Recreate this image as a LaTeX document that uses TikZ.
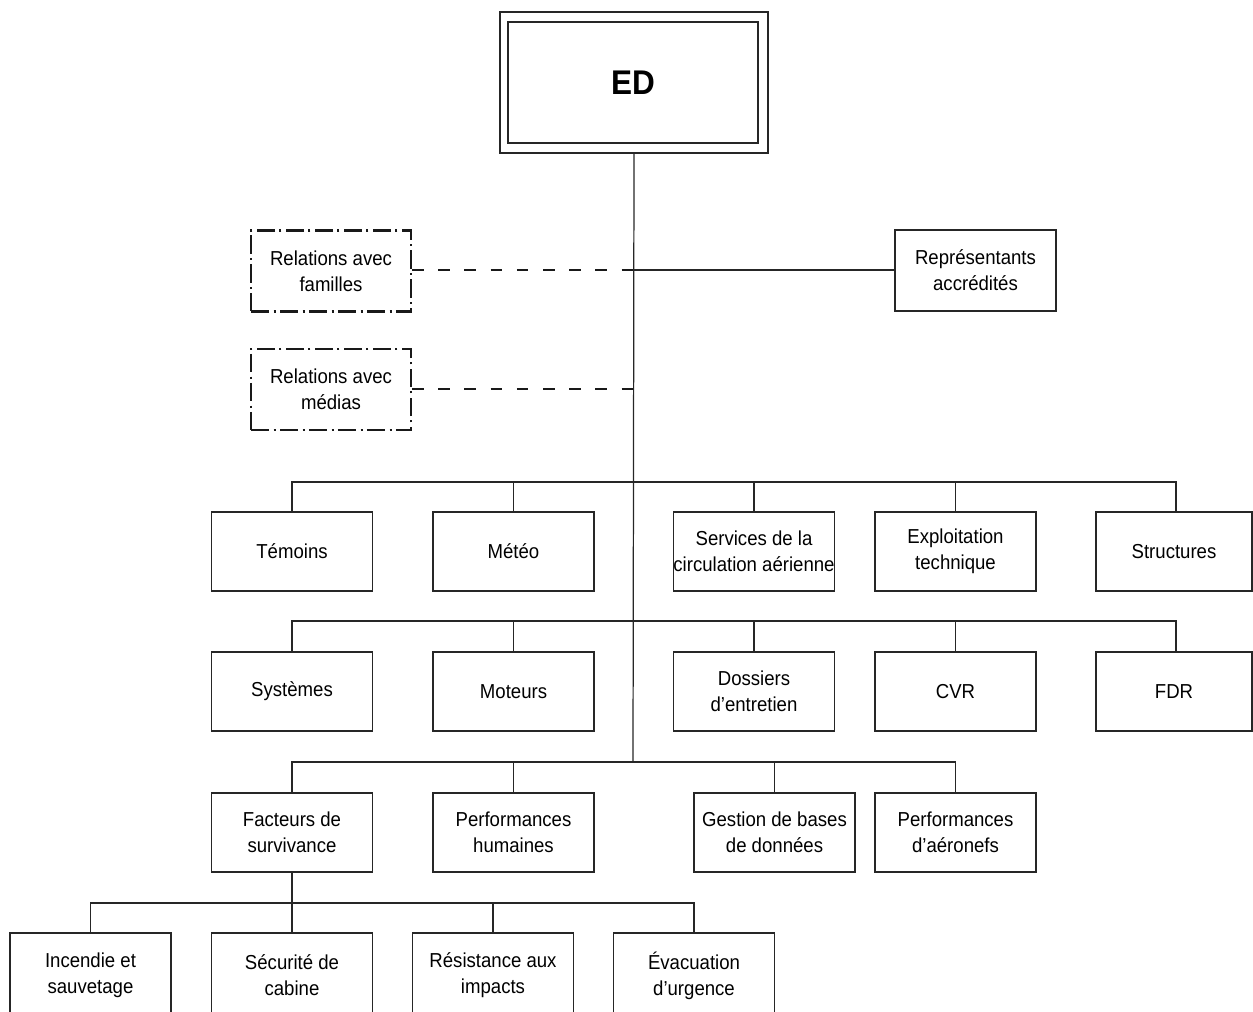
\documentclass[tikz,border=0pt]{standalone}
\usepackage{fontspec}
\setmainfont{Liberation Sans}[FakeStretch=0.92]
\begin{document}
\begin{tikzpicture}[x=0.02cm,y=-0.02cm,
  box/.style={draw=black!85,line width=0.7pt,align=center,minimum width=3.22cm,minimum height=1.58cm,inner sep=0pt,font=\fontsize{11.5}{14.7}\selectfont},
  relbox/.style={draw=black!90,line width=1.3pt,dash pattern=on 10.5pt off 2.4pt on 1.2pt off 2.4pt,align=center,minimum width=3.2cm,minimum height=1.62cm,inner sep=0pt,font=\fontsize{11.5}{14.7}\selectfont},
  link/.style={draw=black!85,line width=0.7pt},
  dashlink/.style={draw=black!90,line width=1.6pt,dash pattern=on 6.6pt off 8.3pt}]
\useasboundingbox (0,0) rectangle (1253,1011);
% ED
\node[draw=black!85,line width=0.8pt,minimum width=5.36cm,minimum height=2.82cm,inner sep=0pt] (edo) at (634,82.5) {};
\node[draw=black!85,line width=0.8pt,minimum width=5.0cm,minimum height=2.42cm,inner sep=0pt,font=\fontsize{19.5}{21}\selectfont\bfseries] (ed) at (633,82.5) {ED};
% junctions on the trunk
\coordinate (j1) at (633,270);
\coordinate (j2) at (633,389);
\coordinate (b1) at (633,482);
\coordinate (b2) at (633,621);
\coordinate (b3) at (633,762);
% side boxes
\node[relbox] (fam) at (331,271) {Relations avec\\familles};
\node[relbox] (med) at (331,389.5) {Relations avec\\médias};
\node[box,minimum height=1.62cm] (rep) at (975.5,270.5) {Représentants\\accrédités};
% row 1
\node[box] (tem) at (292,551.5) {Témoins};
\node[box] (met) at (513.5,551.5) {Météo};
\node[box] (ser) at (754,551.5) {Services de la\\circulation aérienne};
\node[box] (exp) at (955.5,551.5) {Exploitation\\technique};
\node[box,minimum width=3.12cm] (str) at (1174,551.5) {Structures};
% row 2
\node[box] (sys) at (292,691.5) {Systèmes};
\node[box] (mot) at (513.5,691.5) {Moteurs};
\node[box] (dos) at (754,691.5) {Dossiers\\d’entretien};
\node[box] (cvr) at (955.5,691.5) {CVR};
\node[box,minimum width=3.12cm] (fdr) at (1174,691.5) {FDR};
% row 3
\node[box] (fac) at (292,832.5) {Facteurs de\\survivance};
\node[box] (hum) at (513.5,832.5) {Performances\\humaines};
\node[box] (ges) at (774.5,832.5) {Gestion de bases\\de données};
\node[box] (aer) at (955.5,832.5) {Performances\\d’aéronefs};
% row 4 (boxes run past the lower edge)
\node[box,minimum height=1.7cm] (inc) at (90.5,975.5) {Incendie et\\sauvetage};
\node[box,minimum height=1.7cm] (sec) at (292,975.5) {Sécurité de\\cabine};
\node[box,minimum height=1.7cm] (res) at (493,975.5) {Résistance aux\\impacts};
\node[box,minimum height=1.7cm] (eva) at (694,975.5) {Évacuation\\d’urgence};
% trunk
\draw[link] (edo.south) -- (b3);
% side links
\draw[dashlink] (fam.east |- j1) -- (j1);
\draw[dashlink] (med.east |- j2) -- (j2);
\draw[link] (j1) -- (j1 -| rep.west);
% bus 1
\coordinate (sn) at ([xshift=0.04cm]str.north);
\coordinate (fn) at ([xshift=0.04cm]fdr.north);
\draw[link] (tem.north) -- (tem.north |- b1) -- (sn |- b1) -- (sn);
\draw[link] (met.north) -- (met.north |- b1);
\draw[link] (ser.north) -- (ser.north |- b1);
\draw[link] (exp.north) -- (exp.north |- b1);
% bus 2
\draw[link] (sys.north) -- (sys.north |- b2) -- (fn |- b2) -- (fn);
\draw[link] (mot.north) -- (mot.north |- b2);
\draw[link] (dos.north) -- (dos.north |- b2);
\draw[link] (cvr.north) -- (cvr.north |- b2);
% bus 3
\draw[link] (fac.north) -- (fac.north |- b3) -- (aer.north |- b3) -- (aer.north);
\draw[link] (hum.north) -- (hum.north |- b3);
\draw[link] (ges.north) -- (ges.north |- b3);
% bus 4
\coordinate (b4) at (292,903);
\draw[link] (fac.south) -- (b4);
\draw[link] (inc.north) -- (inc.north |- b4) -- (eva.north |- b4) -- (eva.north);
\draw[link] (sec.north) -- (sec.north |- b4);
\draw[link] (res.north) -- (res.north |- b4);
\end{tikzpicture}
\end{document}
